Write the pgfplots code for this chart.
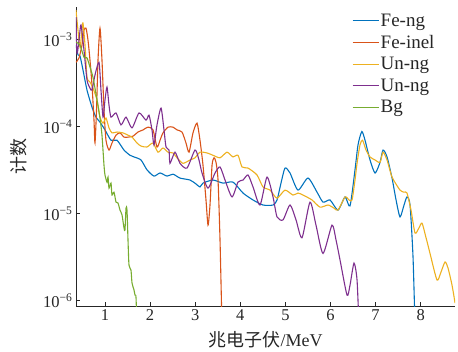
\documentclass[border=0pt]{standalone}
\usepackage{pgfplots}
\pgfplotsset{compat=1.18}
\usepackage{fontspec}
\setmainfont{Liberation Serif}
\newfontfamily\cjk{Noto Sans CJK SC}
\usetikzlibrary{calc}
\definecolor{mblue}{rgb}{0,0.447,0.741}
\definecolor{morange}{rgb}{0.85,0.325,0.098}
\definecolor{myellow}{rgb}{0.929,0.694,0.125}
\definecolor{mpurple}{rgb}{0.494,0.184,0.556}
\definecolor{mgreen}{rgb}{0.466,0.674,0.188}
\definecolor{axgray}{rgb}{0.15,0.15,0.15}
\begin{document}
\begin{tikzpicture}
\begin{axis}[
  name=ax,
  at={(0,0)}, anchor=south west,
  width=379pt, height=299pt, scale only axis,
  xmin=0.357, xmax=8.76,
  ymode=log, ymin=8.7e-7, ymax=2.38e-3,
  axis lines*=left,
  axis line style={axgray, line width=0.8pt, -},
  tick align=inside,
  tick style={axgray, line width=0.8pt},
  major tick length=4pt,
  yminorticks=false,
  xtick={1,2,3,4,5,6,7,8},
  ytick={1e-6,1e-5,1e-4,1e-3},
  yticklabels={10\textsuperscript{−6},10\textsuperscript{−5},10\textsuperscript{−4},10\textsuperscript{−3}},
  /pgf/number format/assume math mode=true,
  ticklabel style={font=\fontsize{16.5}{19}\selectfont, text=axgray},
  xlabel={{\cjk 兆电子伏}/MeV},
  ylabel={{\cjk 计数}},
  label style={font=\fontsize{18}{21}\selectfont, text=axgray},
  xlabel style={at={(axis description cs:0.5,-0.112)}, anchor=center},
  ylabel style={at={(axis description cs:-0.150,0.5)}, anchor=center},
  legend style={draw=none, fill=none, at={(0.72,0.99)}, anchor=north west,
    font=\fontsize{19}{21}\selectfont, text=axgray, row sep=4.5pt,
    nodes={inner sep=1.5pt}},
  legend cell align=left,
  legend image code/.code={\draw[#1] (0pt,0pt) -- (26pt,0pt);},
  every axis plot/.append style={line width=1.1pt, smooth, tension=0.4},
]
% Fe-ng
\addplot[mblue] coordinates {
(0.357,8.7e-4)(0.401,6.7e-4)(0.446,6.5e-4)(0.512,4.5e-4)(0.601,2.64e-4)(0.712,1.68e-4)
(0.800,1.29e-4)(0.889,1.13e-4)(1.0,9.2e-5)(1.133,7.0e-5)(1.266,7.0e-5)(1.421,5.4e-5)
(1.554,4.7e-5)(1.643,4.5e-5)(1.798,4.15e-5)(1.931,3.2e-5)(2.086,2.71e-5)(2.22,2.94e-5)
(2.375,2.71e-5)(2.508,2.85e-5)(2.663,2.57e-5)(2.885,2.44e-5)(3.018,2.2e-5)(3.106,2.03e-5)
(3.173,2.25e-5)(3.395,2.44e-5)(3.616,2.25e-5)(3.838,2.31e-5)(4.060,1.73e-5)(4.282,1.44e-5)
(4.503,1.26e-5)(4.725,1.26e-5)(4.814,1.44e-5)(4.902,2.25e-5)(4.991,3.35e-5)(5.102,2.94e-5)
(5.279,1.87e-5)(5.501,2.57e-5)(5.701,1.77e-5)(5.834,1.36e-5)(5.989,1.44e-5)(6.166,1.10e-5)
(6.322,1.56e-5)(6.432,1.23e-5)(6.543,3.2e-5)(6.610,6.2e-5)(6.694,8.8e-5)(6.765,7.0e-5)
(6.876,4.15e-5)(6.987,2.94e-5)(7.098,3.9e-5)(7.164,5.4e-5)(7.253,4.5e-5)(7.364,2.57e-5)
(7.453,1.44e-5)(7.541,9.2e-6)(7.630,1.26e-5)(7.696,1.56e-5)(7.763,1.26e-5)(7.829,3.2e-6)
(7.874,5e-7)
};
\addlegendentry{Fe-ng}
% Fe-inel
\addplot[morange] coordinates {
(0.357,5.5e-4)(0.424,6.2e-4)(0.490,8.7e-4)(0.534,1.29e-3)(0.579,1.36e-3)(0.623,9.9e-4)
(0.667,5.85e-4)(0.712,3.0e-4)(0.756,1.19e-4)(0.778,6.5e-5)(0.812,1.56e-4)(0.845,5.85e-4)
(0.889,1.36e-3)(0.933,5.85e-4)(0.978,1.56e-4)(1.022,7.0e-5)(1.089,5.4e-5)(1.155,6.5e-5)
(1.244,8.0e-5)(1.333,8.5e-5)(1.421,7.6e-5)(1.510,7.6e-5)(1.621,7.8e-5)(1.732,8.7e-5)
(1.843,9.2e-5)(1.953,9.9e-5)(2.064,9.2e-5)(2.153,5.85e-5)(2.22,7.0e-5)(2.286,8.5e-5)
(2.397,9.9e-5)(2.508,9.9e-5)(2.596,9.2e-5)(2.707,8.7e-5)(2.796,6.5e-5)(2.863,5.1e-5)
(2.951,8.5e-5)(3.040,1.10e-4)(3.106,7.0e-5)(3.173,3.6e-5)(3.239,1.44e-5)(3.284,7.4e-6)
(3.328,1.26e-5)(3.373,3.6e-5)(3.417,4.4e-5)(3.461,3.9e-5)(3.506,2.44e-5)(3.550,5.0e-6)
(3.594,5e-7)
};
\addlegendentry{Fe-inel}
% Un-ng
\addplot[myellow] coordinates {
(0.357,2.19e-3)(0.401,1.29e-3)(0.446,8.2e-4)(0.490,1.29e-3)(0.512,1.56e-3)(0.557,8.7e-4)
(0.601,3.7e-4)(0.667,3.27e-4)(0.734,2.78e-4)(0.823,2.03e-4)(0.889,1.29e-4)(0.956,1.10e-4)
(1.022,1.26e-4)(1.089,9.7e-5)(1.155,8.5e-5)(1.266,8.7e-5)(1.399,8.5e-5)(1.510,8.0e-5)
(1.599,7.6e-5)(1.710,6.5e-5)(1.798,6.0e-5)(1.931,5.85e-5)(2.064,6.5e-5)(2.175,5.1e-5)
(2.286,5.7e-5)(2.397,5.1e-5)(2.508,5.0e-5)(2.596,4.4e-5)(2.729,3.8e-5)(2.885,4.15e-5)
(2.996,4.4e-5)(3.106,5.1e-5)(3.262,5.0e-5)(3.395,4.7e-5)(3.550,4.4e-5)(3.705,5.1e-5)
(3.838,4.5e-5)(3.949,4.7e-5)(4.038,3.45e-5)(4.171,3.35e-5)(4.370,2.79e-5)(4.503,2.03e-5)
(4.659,1.87e-5)(4.814,1.51e-5)(4.991,1.87e-5)(5.168,1.64e-5)(5.279,1.73e-5)(5.390,1.64e-5)
(5.590,1.44e-5)(5.767,1.19e-5)(5.945,1.26e-5)(6.078,1.16e-5)(6.166,1.10e-5)(6.322,1.56e-5)
(6.410,1.44e-5)(6.477,1.44e-5)(6.543,2.44e-5)(6.588,3.8e-5)(6.654,6.2e-5)(6.71,7.0e-5)
(6.787,5.4e-5)(6.876,4.5e-5)(6.987,4.15e-5)(7.098,3.9e-5)(7.164,5.1e-5)(7.253,4.15e-5)
(7.364,2.64e-5)(7.541,1.87e-5)(7.63,1.77e-5)(7.696,1.73e-5)(7.785,1.10e-5)(7.874,6.0e-6)
(7.962,6.9e-6)(8.029,7.8e-6)(8.118,5.3e-6)(8.206,3.5e-6)(8.361,1.73e-6)(8.45,2.14e-6)
(8.539,2.79e-6)(8.605,2.38e-6)(8.694,1.51e-6)(8.761,9.4e-7)
};
\addlegendentry{Un-ng}
% Un-ng (2)
\addplot[mpurple] coordinates {
(0.357,1.82e-3)(0.379,7.0e-4)(0.424,9.9e-4)(0.468,1.48e-3)(0.534,7.6e-4)(0.601,3.45e-4)
(0.667,2.78e-4)(0.712,2.64e-4)(0.778,3.93e-4)(0.867,5.5e-4)(0.911,2.64e-4)(0.956,1.29e-4)
(1.0,2.03e-4)(1.044,2.86e-4)(1.089,1.77e-4)(1.133,1.29e-4)(1.244,1.44e-4)(1.355,1.05e-4)
(1.466,1.29e-4)(1.599,9.7e-5)(1.754,1.44e-4)(1.909,1.19e-4)(1.976,1.36e-4)(2.042,9.2e-5)
(2.086,6.2e-5)(2.153,1.05e-4)(2.242,1.64e-4)(2.308,9.2e-5)(2.353,5.85e-5)(2.419,5.4e-5)
(2.441,3.8e-5)(2.552,5.1e-5)(2.663,3.8e-5)(2.818,3.35e-5)(2.996,5.4e-5)(3.084,4.15e-5)
(3.151,2.94e-5)(3.284,1.97e-5)(3.439,2.94e-5)(3.550,3.45e-5)(3.661,2.44e-5)(3.816,1.56e-5)
(3.949,2.31e-5)(4.060,2.44e-5)(4.171,2.79e-5)(4.282,2.03e-5)(4.437,1.26e-5)(4.592,2.64e-5)
(4.725,1.56e-5)(4.814,9.2e-6)(4.947,8.5e-6)(5.102,1.26e-5)(5.235,8.5e-6)(5.368,5.3e-6)
(5.545,1.36e-5)(5.678,7.4e-6)(5.834,3.5e-6)(6.033,7.4e-6)(6.122,5.0e-6)(6.211,2.94e-6)
(6.366,1.16e-6)(6.432,1.51e-6)(6.521,2.71e-6)(6.588,1.73e-6)(6.632,5e-7)
};
\addlegendentry{Un-ng}
% Bg
\addplot[mgreen] coordinates {
(0.357,9.4e-4)(0.446,8.7e-4)(0.534,6.3e-4)(0.601,6.2e-4)(0.667,4.85e-4)(0.734,3.7e-4)
(0.823,2.03e-4)(0.889,1.26e-4)(0.933,8.0e-5)(0.978,3.6e-5)(1.0,2.79e-5)(1.044,2.31e-5)
(1.067,2.64e-5)(1.089,1.97e-5)(1.133,2.25e-5)(1.155,1.64e-5)(1.200,1.77e-5)(1.244,1.36e-5)
(1.288,1.33e-5)(1.333,1.10e-5)(1.377,9.7e-6)(1.421,6.9e-6)(1.443,6.5e-6)(1.466,1.16e-5)
(1.488,1.10e-5)(1.510,5.0e-6)(1.532,2.57e-6)(1.576,2.25e-6)(1.599,1.6e-6)(1.643,1.33e-6)
(1.665,1.16e-6)(1.687,1.1e-6)(1.710,5e-7)
};
\addlegendentry{Bg}
\end{axis}
\pgfresetboundingbox
\path ($(ax.south west)+(-76pt,-46pt)$) rectangle ($(ax.north east)+(3pt,7pt)$);
\end{tikzpicture}
\end{document}
